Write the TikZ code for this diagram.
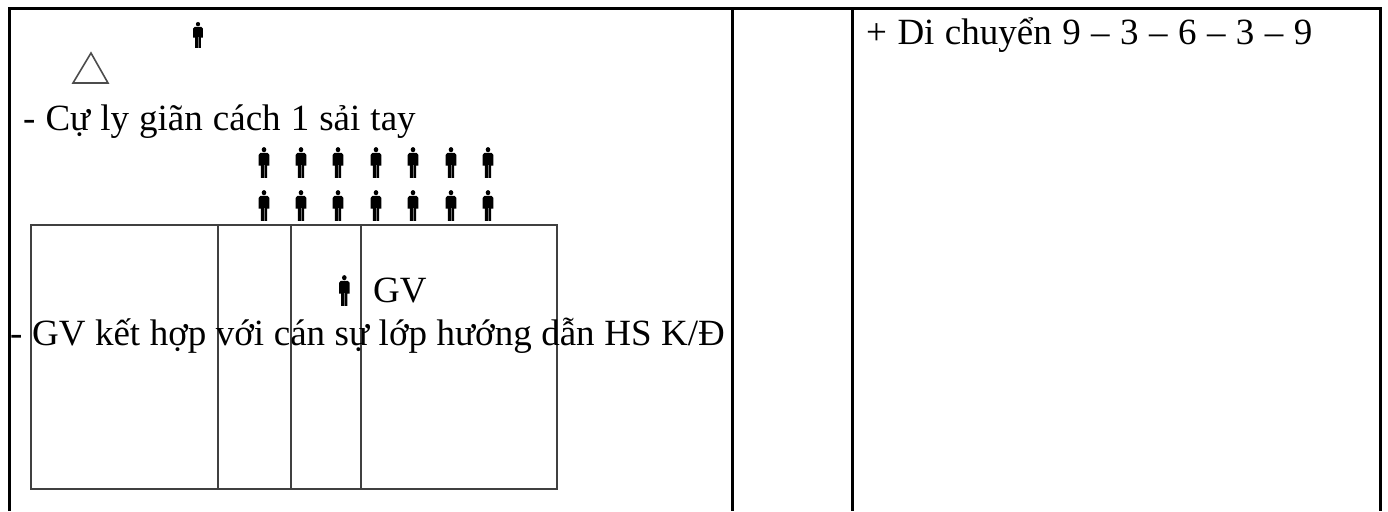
\documentclass[tikz,border=0pt]{standalone}
\usepackage{fontspec}
\setmainfont{Liberation Serif}
\newcommand{\wsp}[1]{\spaceskip=\dimexpr\fontdimen2\font+#1pt\relax}
\begin{document}
\begin{tikzpicture}[x=1pt,y=-1pt,
  frame/.style={line width=3pt,black},
  field/.style={line width=1.8pt,black!75},
  tri/.style={line width=1.6pt,black!70},
  label/.style={inner sep=0pt,anchor=base west,font=\fontsize{37}{44}\selectfont},
  person/.pic={
    \fill[black] (0,-9.6) circle (2.1);
    \fill[black] (-3.2,-7) -- (3.2,-7) -- (4.8,-5.4) -- (4.8,3.5) -- (2.8,3.5) -- (2.8,13.5) -- (-2.8,13.5) -- (-2.8,3.5) -- (-4.8,3.5) -- (-4.8,-5.4) -- cycle;
    \fill[black!55] (-0.35,3) rectangle (0.35,13.5);
  }]
\useasboundingbox (0,0) rectangle (1388,511);
\fill[white] (0,0) rectangle (1388,511);
% table
\coordinate (tl) at (9,9); \coordinate (tr) at (1380,9);
\coordinate (bl) at (9,511); \coordinate (br) at (1380,511);
\coordinate (m1t) at (732,9); \coordinate (m1b) at (732,511);
\coordinate (m2t) at (852,9); \coordinate (m2b) at (852,511);
\draw[frame] (bl) -- (tl) -- (tr) -- (br);
\draw[frame] (m1t) -- (m1b);
\draw[frame] (m2t) -- (m2b);
% field
\draw[field] (31,225) rectangle (557,489);
\draw[field] (218,225) -- (218,489);
\draw[field] (291,225) -- (291,489);
\draw[field] (361,225) -- (361,489);
% people
\pic[xscale=1.02,yscale=1.03] at (198,34) {person};
\foreach \x in {264,301,338,376,413,451,488} {
  \pic[xscale=1.1,yscale=1.22] at (\x,161.4) {person};
  \pic[xscale=1.1,yscale=1.22] at (\x,204.4) {person};
}
\pic[xscale=1.1,yscale=1.22] at (344.3,289.4) {person};
% triangle
\draw[tri] (91,53) -- (73,83) -- (108,83) -- cycle;
% text
\node[label] at (23,130) {\wsp{0.8}- Cự ly giãn cách 1 sải tay};
\node[label] at (373,302) {GV};
\node[label] at (10,345) {\wsp{0.3}- GV kết hợp với cán sự lớp hướng dẫn HS K/Đ};
\node[label] at (866,44.5) {\wsp{1.2}+ Di chuyển 9 – 3 – 6 – 3 – 9};
\end{tikzpicture}
\end{document}
